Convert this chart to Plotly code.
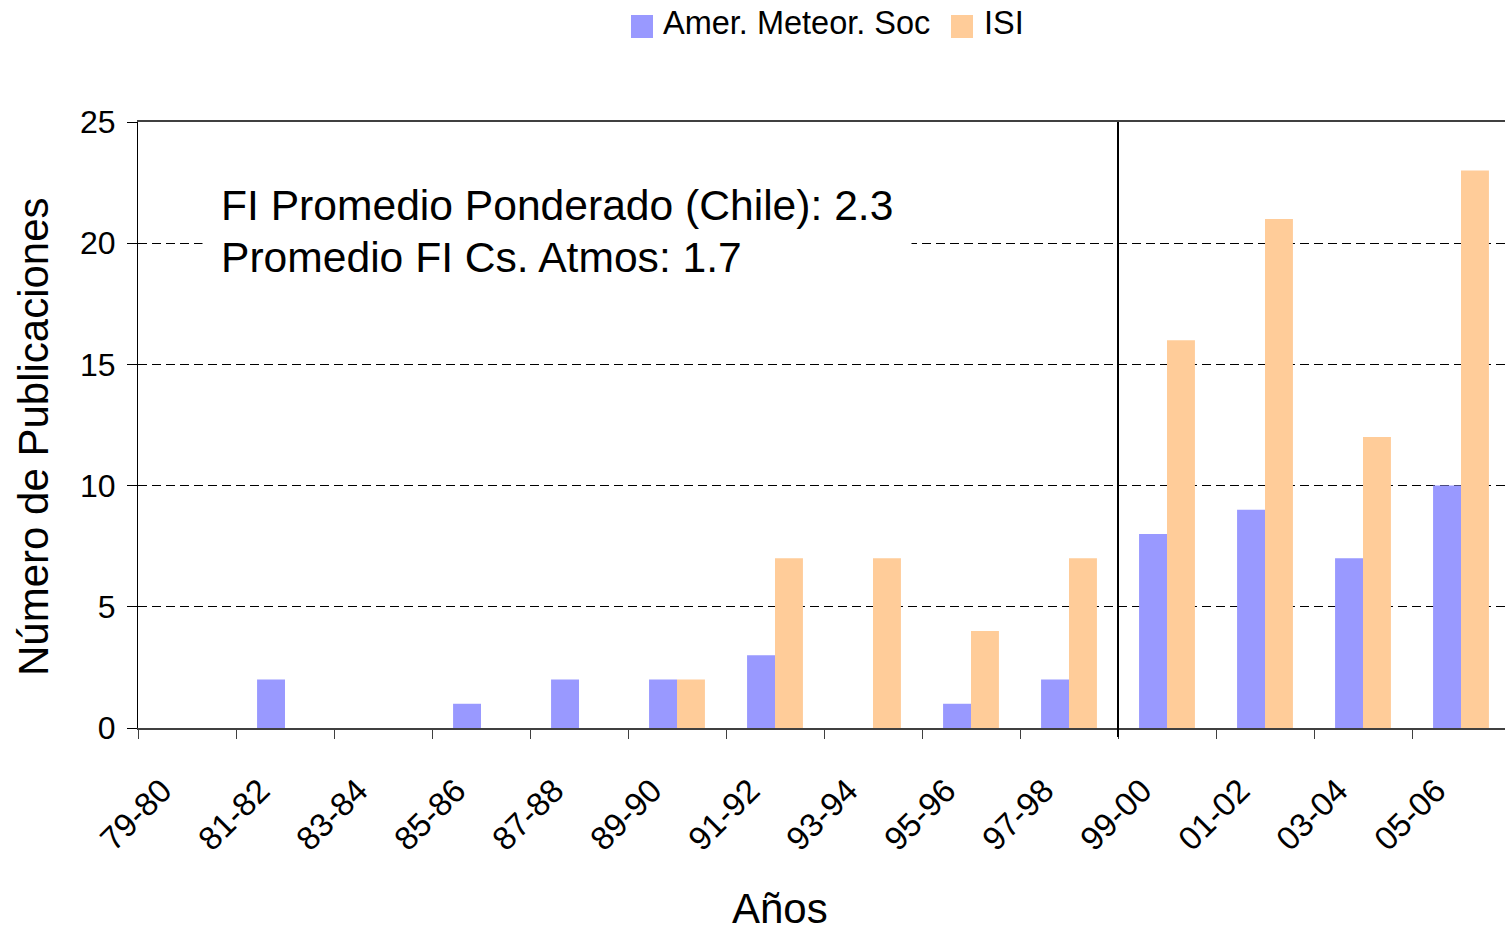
import plotly.graph_objects as go

# Publication counts per two-year period
periods = ["79-80", "81-82", "83-84", "85-86", "87-88", "89-90", "91-92",
           "93-94", "95-96", "97-98", "99-00", "01-02", "03-04", "05-06"]
ams = [0, 2, 0, 1, 2, 2, 3, 0, 1, 2, 8, 9, 7, 10]
isi = [0, 0, 0, 0, 0, 2, 7, 7, 4, 7, 16, 21, 12, 23]
series_names = ["Amer. Meteor. Soc", "ISI"]
colors = ["#9999FF", "#FFCC99"]
y_ticks = [0, 5, 10, 15, 20, 25]
note_lines = ["FI Promedio Ponderado (Chile): 2.3", "Promedio FI Cs. Atmos: 1.7"]

FONT = "Liberation Sans, Arial, sans-serif"
W, H = 1505, 934
L, R, T, B = 138, 0, 122, 206
pw, ph = W - L - R, H - T - B
CAT_W = 98.0           # pixel width of one category slot
Y_MAX = 25.0


def px(x):
    return (x - L) / pw


def py(y):
    return (H - B - y) / ph


fig = go.Figure()
for name, vals, col in zip(series_names, [ams, isi], colors):
    fig.add_trace(go.Bar(x=periods, y=vals, name=name, marker_color=col,
                         marker_line_width=0, showlegend=False))

fig.update_layout(
    width=W, height=H,
    margin=dict(l=L, r=R, t=T, b=B, pad=0),
    paper_bgcolor="white", plot_bgcolor="white",
    barmode="group", bargap=0.43, bargroupgap=0,
    font=dict(family=FONT, color="black"),
)

fig.update_xaxes(
    type="category", range=[-0.5, -0.5 + pw / CAT_W],
    showline=True, linecolor="#404040", linewidth=2, mirror=True,
    ticks="outside", tickson="boundaries", ticklen=9, tickcolor="#404040",
    tickangle=-45, tickfont=dict(size=33, family=FONT),
    ticklabelshift=-25, ticklabelstandoff=28,
    showgrid=False, zeroline=False,
)
fig.update_yaxes(
    range=[0, Y_MAX], tickvals=y_ticks,
    showline=True, linecolor="black", linewidth=1,
    ticks="outside", ticklen=10, tickcolor="black",
    tickfont=dict(size=32, family=FONT), ticklabelstandoff=5,
    showgrid=True, gridcolor="black", gridwidth=1, griddash="9px,5px",
    zeroline=False,
)

# Divider between the 97-98 and 99-00 periods
fig.add_shape(type="line", xref="x", yref="paper", x0=9.5, x1=9.5,
              y0=-0.015, y1=1, line=dict(color="black", width=2))

# Impact-factor note; the first line carries a white box that masks the grid
PAD = 18
fig.add_annotation(
    xref="paper", yref="paper", x=px(220 - PAD), y=py(180 - PAD),
    xanchor="left", yanchor="top", align="left", showarrow=False,
    text=note_lines[0], font=dict(size=42.6, family=FONT),
    bgcolor="white", borderpad=PAD,
)
fig.add_annotation(
    xref="paper", yref="paper", x=px(220), y=py(232),
    xanchor="left", yanchor="top", align="left", showarrow=False,
    text=note_lines[1], font=dict(size=42.6, family=FONT), borderpad=0,
)

# Legend drawn as swatches with labels
swatches = [(631, 653, 662), (951, 973, 983)]
for (x0, x1, tx), name, col in zip(swatches, series_names, colors):
    fig.add_shape(type="rect", xref="paper", yref="paper",
                  x0=px(x0), x1=px(x1), y0=py(38), y1=py(15),
                  fillcolor=col, line_width=0)
    fig.add_annotation(xref="paper", yref="paper", x=px(tx), y=py(23),
                       xanchor="left", yanchor="middle", showarrow=False,
                       text=name, font=dict(size=32.5, family=FONT),
                       borderpad=0)

# Axis titles
fig.add_annotation(xref="paper", yref="paper", x=px(33), y=py(437),
                   xanchor="center", yanchor="middle", textangle=-90,
                   showarrow=False, text="Número de Publicaciones",
                   font=dict(size=42, family=FONT))
fig.add_annotation(xref="paper", yref="paper", x=px(780), y=py(933),
                   xanchor="center", yanchor="bottom",
                   showarrow=False, text="Años",
                   font=dict(size=42, family=FONT), borderpad=0)

fig.write_html("out.html")
